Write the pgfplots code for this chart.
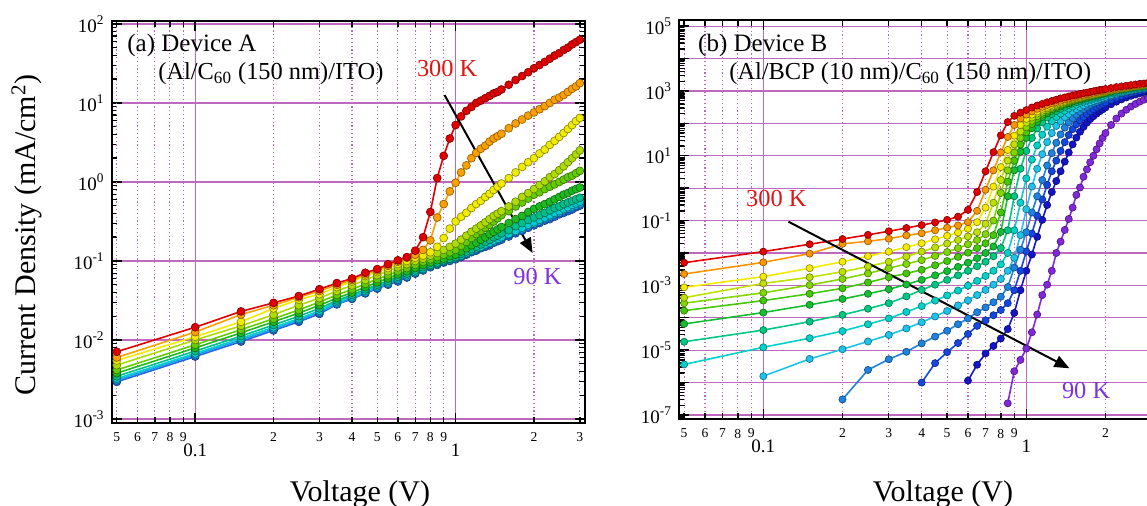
\documentclass[border=0pt]{standalone}
\usepackage{fontspec}
\setmainfont{Liberation Serif}
\usepackage{pgfplots}
\pgfplotsset{compat=1.18}
\usepackage{pgfplotstable}
\usetikzlibrary{arrows.meta}

\definecolor{gridc}{RGB}{190,105,190}
\definecolor{La}{RGB}{225,0,0}
\definecolor{Lb}{RGB}{250,160,0}
\definecolor{Lc}{RGB}{240,235,0}
\definecolor{Ld}{RGB}{175,220,0}
\definecolor{Le}{RGB}{100,205,0}
\definecolor{Lf}{RGB}{30,185,30}
\definecolor{Lg}{RGB}{0,190,140}
\definecolor{Lh}{RGB}{0,205,215}
\definecolor{Li}{RGB}{30,160,230}
\definecolor{Lj}{RGB}{40,100,225}
\definecolor{Ra}{RGB}{225,0,0}
\definecolor{Rb}{RGB}{250,150,0}
\definecolor{Rc}{RGB}{245,235,0}
\definecolor{Rd}{RGB}{190,225,0}
\definecolor{Re}{RGB}{130,215,0}
\definecolor{Rf}{RGB}{70,200,10}
\definecolor{Rg}{RGB}{20,190,50}
\definecolor{Rh}{RGB}{0,200,130}
\definecolor{Ri}{RGB}{0,210,200}
\definecolor{Rj}{RGB}{30,195,235}
\definecolor{Rk}{RGB}{30,130,225}
\definecolor{Rl}{RGB}{20,70,225}
\definecolor{Rm}{RGB}{20,20,200}
\definecolor{Rn}{RGB}{130,40,220}
\definecolor{hot}{RGB}{225,20,20}
\definecolor{cold}{RGB}{125,50,225}

% Device A
\pgfplotstableread{
V    L1     L2      L3      L4      L5      L6      L7      L8      L9      L10
0.05 7.1e-3 6.0e-3  5.5e-3  4.8e-3  4.17e-3 3.8e-3  3.47e-3 3.24e-3 3.09e-3 2.95e-3
0.10 1.45e-2 1.26e-2 1.1e-2 1.0e-2  8.7e-3  7.94e-3 7.24e-3 6.76e-3 6.46e-3 6.17e-3
0.15 2.3e-2 2.1e-2  1.7e-2  1.51e-2 1.35e-2 1.23e-2 1.12e-2 1.05e-2 1.0e-2  9.55e-3
0.20 2.95e-2 2.75e-2 2.51e-2 2.09e-2 1.86e-2 1.7e-2 1.55e-2 1.45e-2 1.38e-2 1.32e-2
0.25 3.6e-2 3.47e-2 3.24e-2 2.75e-2 2.4e-2  2.19e-2 2.0e-2  1.86e-2 1.78e-2 1.70e-2
0.30 4.4e-2 4.17e-2 3.8e-2  3.39e-2 3.02e-2 2.75e-2 2.51e-2 2.34e-2 2.24e-2 2.14e-2
0.35 5.25e-2 5.0e-2 4.68e-2 4.17e-2 3.72e-2 3.39e-2 3.16e-2 3.02e-2 2.88e-2 2.82e-2
0.40 6.0e-2 5.75e-2 5.5e-2  4.9e-2  4.37e-2 3.98e-2 3.72e-2 3.55e-2 3.39e-2 3.31e-2
0.45 7.1e-2 6.76e-2 6.46e-2 5.75e-2 5.13e-2 4.68e-2 4.37e-2 4.17e-2 3.98e-2 3.89e-2
0.50 7.9e-2 7.6e-2  7.24e-2 6.61e-2 5.89e-2 5.37e-2 5.01e-2 4.79e-2 4.57e-2 4.47e-2
0.55 9.1e-2 8.7e-2  8.13e-2 7.41e-2 6.61e-2 6.03e-2 5.62e-2 5.37e-2 5.13e-2 5.01e-2
0.60 0.102  9.8e-2  9.12e-2 8.32e-2 7.41e-2 6.76e-2 6.31e-2 6.03e-2 5.75e-2 5.5e-2
0.65 0.112  0.110   0.100   9.12e-2 8.13e-2 7.41e-2 6.92e-2 6.61e-2 6.31e-2 6.17e-2
0.70 0.135  0.120   0.110   0.100   8.91e-2 8.13e-2 7.59e-2 7.24e-2 7.08e-2 6.92e-2
0.75 0.200  0.138   0.117   0.107   9.77e-2 8.91e-2 8.32e-2 7.94e-2 7.76e-2 7.59e-2
0.80 0.417  0.182   0.129   0.117   0.105   9.55e-2 8.91e-2 8.71e-2 8.51e-2 8.32e-2
0.85 1.12   0.355   0.151   0.126   0.112   0.102   9.55e-2 9.33e-2 9.12e-2 8.91e-2
0.90 2.14   0.525   0.195   0.138   0.120   0.107   0.102   0.100   9.77e-2 9.55e-2
0.95 3.55   0.76    0.257   0.151   0.129   0.115   0.107   0.105   0.102   0.100
1.00 5.25   0.977   0.316   0.166   0.138   0.120   0.112   0.110   0.107   0.105
1.05 6.76   1.32    0.363   0.186   0.155   0.132   0.123   0.117   0.115   0.112
1.10 7.94   1.62    0.407   0.209   0.174   0.145   0.132   0.126   0.123   0.120
1.15 8.91   2.0     0.468   0.234   0.195   0.158   0.141   0.135   0.132   0.129
1.20 10.0   2.34    0.525   0.257   0.219   0.170   0.151   0.145   0.141   0.135
1.25 10.7   2.63    0.575   0.282   0.240   0.186   0.162   0.151   0.148   0.145
1.30 11.5   2.88    0.646   0.309   0.263   0.200   0.174   0.162   0.158   0.151
1.35 12.3   3.24    0.708   0.339   0.288   0.219   0.186   0.170   0.166   0.158
1.40 13.2   3.55    0.794   0.372   0.316   0.234   0.200   0.182   0.174   0.170
1.45 13.8   3.80    0.871   0.398   0.347   0.251   0.209   0.191   0.186   0.178
1.50 14.8   4.07    0.955   0.427   0.380   0.269   0.224   0.200   0.195   0.186
1.6  17.0   4.79    1.12    0.490   0.427   0.302   0.245   0.219   0.214   0.204
1.7  19.5   5.50    1.32    0.562   0.490   0.339   0.275   0.240   0.234   0.224
1.8  21.9   6.17    1.55    0.646   0.550   0.372   0.302   0.263   0.251   0.240
1.9  24.5   6.92    1.78    0.724   0.617   0.417   0.331   0.288   0.275   0.263
2.0  27.5   7.59    2.0     0.813   0.692   0.457   0.355   0.309   0.295   0.282
2.1  30.2   8.32    2.29    0.912   0.741   0.490   0.380   0.331   0.316   0.302
2.2  33.1   9.12    2.57    1.02    0.813   0.525   0.407   0.355   0.339   0.324
2.3  36.3   10.0    2.95    1.15    0.871   0.562   0.437   0.380   0.363   0.339
2.4  39.8   11.0    3.31    1.26    0.933   0.603   0.468   0.407   0.389   0.363
2.5  42.7   11.7    3.72    1.41    1.00    0.646   0.490   0.427   0.407   0.389
2.6  46.8   12.6    4.17    1.58    1.07    0.692   0.525   0.457   0.437   0.407
2.7  50.1   13.8    4.68    1.78    1.15    0.724   0.550   0.479   0.457   0.427
2.8  55.0   15.1    5.25    2.0     1.20    0.776   0.575   0.513   0.479   0.447
2.9  58.9   16.2    5.89    2.24    1.29    0.813   0.603   0.537   0.501   0.479
3.0  63.1   17.8    6.46    2.51    1.38    0.851   0.631   0.562   0.525   0.501
}\tabA

% Device B
\pgfplotstableread{
V    R1      R2      R3      R4      R5      R6      R7      R8      R9      R10     R11     R12     R13     R14
0.05 5.01e-3 2.24e-3 8.71e-4 4.17e-4 2.82e-4 1.66e-4 6.46e-5 1.82e-5 3.63e-6 nan     nan     nan     nan     nan
0.10 1.10e-2 5.13e-3 1.86e-3 1.15e-3 5.89e-4 3.39e-4 1.45e-4 4.17e-5 1.23e-5 1.58e-6 nan     nan     nan     nan
0.15 1.86e-2 9.55e-3 3.39e-3 1.78e-3 1.02e-3 5.50e-4 2.51e-4 7.59e-5 2.34e-5 5.37e-6 nan     nan     nan     nan
0.20 2.69e-2 1.91e-2 5.37e-3 2.63e-3 1.58e-3 8.13e-4 3.80e-4 1.23e-4 3.89e-5 1.07e-5 3.02e-7 nan     nan     nan
0.25 3.63e-2 2.29e-2 7.94e-3 3.80e-3 2.34e-3 1.23e-3 5.50e-4 1.91e-4 6.31e-5 1.86e-5 2.45e-6 nan     nan     nan
0.30 4.68e-2 2.75e-2 1.10e-2 5.37e-3 3.39e-3 1.78e-3 7.59e-4 2.82e-4 9.55e-5 2.95e-5 5.25e-6 nan     nan     nan
0.35 5.89e-2 3.47e-2 1.51e-2 7.76e-3 4.57e-3 2.34e-3 1.07e-3 4.57e-4 1.51e-4 4.68e-5 8.91e-6 nan     nan     nan
0.40 7.24e-2 4.07e-2 2.00e-2 1.10e-2 6.03e-3 3.02e-3 1.48e-3 7.24e-4 2.29e-4 7.24e-5 1.62e-5 1.00e-6 nan     nan
0.45 8.71e-2 5.01e-2 2.63e-2 1.48e-2 8.13e-3 4.17e-3 2.04e-3 1.05e-3 3.39e-4 1.10e-4 2.63e-5 3.98e-6 nan     nan
0.50 0.105   6.03e-2 3.39e-2 1.95e-2 1.07e-2 5.62e-3 2.75e-3 1.48e-3 4.90e-4 1.62e-4 3.98e-5 8.71e-6 nan     nan
0.55 0.132   7.08e-2 4.27e-2 2.51e-2 1.41e-2 7.59e-3 3.72e-3 2.04e-3 6.92e-4 2.40e-4 6.31e-5 1.66e-5 nan     nan
0.60 0.214   8.91e-2 5.62e-2 3.24e-2 1.86e-2 1.02e-2 5.01e-3 2.82e-3 9.77e-4 3.47e-4 9.55e-5 3.16e-5 1.15e-6 nan
0.65 0.759   0.200   8.91e-2 4.37e-2 2.51e-2 1.41e-2 6.92e-3 3.89e-3 1.38e-3 5.01e-4 1.48e-4 5.62e-5 3.55e-6 nan
0.70 3.31    0.891   0.251   7.94e-2 3.80e-2 2.00e-2 1.00e-2 5.37e-3 1.95e-3 7.24e-4 2.09e-4 8.32e-5 7.94e-6 nan
0.75 12.9    3.55    1.12    0.355   0.100   3.55e-2 1.58e-2 7.94e-3 2.82e-3 1.05e-3 3.02e-4 1.20e-4 1.35e-5 nan
0.80 42.7    12.6    4.47    1.78    0.708   0.178   4.47e-2 1.41e-2 4.47e-3 1.58e-3 4.47e-4 1.74e-4 2.29e-5 nan
0.85 110     38.0    15.1    7.08    3.55    1.58    0.562   5.01e-2 1.00e-2 2.82e-3 8.91e-4 2.82e-4 4.47e-5 2.29e-7
0.90 170     89.1    41.7    22.4    12.6    7.08    3.55    0.562   5.01e-2 7.08e-3 3.55e-3 7.08e-4 1.41e-4 2.24e-6
0.95 214     141     89.1    56.2    35.5    22.4    13.2    3.98    0.355   3.55e-2 1.26e-2 2.82e-3 7.08e-4 5.01e-6
1.00 257     186     138     105     75.9    52.5    35.5    14.1    2.00    0.224   4.37e-2 1.12e-2 2.82e-3 1.12e-5
1.05 309     234     186     151     120     95.5    70.8    35.5    7.59    1.12    0.178   3.98e-2 8.91e-3 3.55e-5
1.10 355     282     234     200     166     138     112     69.2    20.9    3.98    0.562   0.141   3.16e-2 1.26e-4
1.15 398     324     282     245     214     186     158     107     44.7    11.2    1.78    0.447   0.105   5.0e-4
1.20 447     372     324     288     257     229     204     151     79.4    26.3    5.01    1.26    0.302   1.05e-3
1.25 490     417     372     331     302     275     245     195     117     50.1    12.0    3.31    0.759   2.82e-3
1.30 537     457     417     380     347     316     288     240     158     83.2    25.1    7.08    1.66    1.00e-2
1.35 589     501     457     427     389     363     331     282     200     117     45.7    14.1    3.31    2.24e-2
1.40 631     550     501     468     437     407     380     324     245     155     74.1    26.3    6.61    5.13e-2
1.45 676     589     550     513     479     447     417     372     288     195     107     43.7    12.6    0.112
1.50 724     631     589     550     525     490     468     417     331     234     145     66.1    22.4    0.251
1.55 759     676     631     589     562     537     513     457     380     275     186     93.3    36.3    0.617
1.60 813     724     676     631     603     575     550     501     427     316     229     126     55.0    1.05
1.65 851     759     708     676     646     617     589     550     468     363     275     158     77.6    2.24
1.70 891     794     759     724     692     661     631     589     513     407     324     195     105     3.80
1.75 933     832     794     759     724     708     676     631     550     447     372     234     135     6.31
1.80 977     891     832     794     776     741     724     676     589     490     417     275     166     10.0
1.85 1023    933     871     832     813     776     759     708     631     525     457     316     200     15.8
1.90 1072    977     912     871     851     832     794     759     676     575     501     355     234     24.0
1.95 1096    1000    955     912     891     871     832     794     708     617     550     398     269     35.5
2.00 1148    1047    1000    955     933     912     871     832     759     661     589     437     309     50.1
2.1  1230    1122    1072    1047    1023    1000    955     912     832     741     676     525     389     89.1
2.2  1318    1202    1148    1122    1096    1072    1047    1000    912     832     759     617     468     141
2.3  1380    1288    1230    1202    1175    1148    1122    1072    1000    912     851     692     550     200
2.4  1445    1349    1288    1259    1230    1202    1175    1148    1072    977     933     776     631     263
2.5  1514    1413    1380    1349    1318    1288    1259    1202    1148    1047    1000    851     708     331
2.6  1585    1479    1445    1413    1380    1349    1318    1288    1202    1122    1072    933     776     398
2.7  1660    1549    1514    1479    1445    1413    1380    1349    1259    1175    1148    1000    851     468
2.8  1698    1622    1585    1549    1514    1479    1445    1413    1318    1230    1202    1072    933     537
2.9  1778    1698    1622    1585    1549    1514    1479    1445    1380    1318    1259    1148    1000    603
3.0  1862    1778    1698    1660    1622    1585    1549    1514    1445    1380    1318    1202    1072    676
}\tabB

\newcommand{\crv}[4]{\addplot[draw=#1, line width=0.8pt, mark=*, mark size=#4,
  mark options={solid, fill=#1, draw=#1!55!black, line width=0.3pt}]
  table[x=V, y=#2] {#3};}

\begin{document}
\begin{tikzpicture}
\useasboundingbox (0pt,0pt) rectangle (573.5pt,253pt);
\clip (0pt,0pt) rectangle (573.5pt,253pt);

\begin{axis}[
  scale only axis, xmode=log, ymode=log,
  at={(55.85pt,41.5pt)}, anchor=south west, width=236.65pt, height=201pt,
  axis line style={line width=1pt, black},
  tick style={black, line width=0.7pt},
  major tick length=5pt, minor tick length=2.8pt,
  xmin=0.0478, xmax=3.14,
  xtick={0.1,1}, xticklabels={0.1,1},
  xticklabel style={font=\fontsize{9.5}{10}\selectfont, yshift=-6.8pt},
  extra x ticks={0.05,0.06,0.07,0.08,0.09,0.2,0.3,0.4,0.5,0.6,0.7,0.8,0.9,2,3},
  extra x tick labels={5,6,7,8,9,2,3,4,5,6,7,8,9,2,3},
  extra x tick style={major tick length=3pt, grid=major,
    major grid style={gridc, line width=0.55pt, dash pattern=on 0.6pt off 1.3pt},
    xticklabel style={font=\fontsize{6.8}{7}\selectfont, yshift=5.6pt}},
  grid=major, major grid style={gridc, line width=0.6pt},
  yticklabel style={font=\fontsize{9.5}{10}\selectfont},
  ymin=8.9e-4, ymax=109,
  ytick={1e-3,1e-2,1e-1,1,10,100},
  yticklabels={10\textsuperscript{-3},10\textsuperscript{-2},10\textsuperscript{-1},10\textsuperscript{0},10\textsuperscript{1},10\textsuperscript{2}},
  minor ytick={2e-3,3e-3,4e-3,5e-3,6e-3,7e-3,8e-3,9e-3,2e-2,3e-2,4e-2,5e-2,6e-2,7e-2,8e-2,9e-2,0.2,0.3,0.4,0.5,0.6,0.7,0.8,0.9,2,3,4,5,6,7,8,9,20,30,40,50,60,70,80,90},
]
\crv{Lj}{L10}{\tabA}{2pt}
\crv{Li}{L9}{\tabA}{2pt}
\crv{Lh}{L8}{\tabA}{2pt}
\crv{Lg}{L7}{\tabA}{2pt}
\crv{Lf}{L6}{\tabA}{2pt}
\crv{Le}{L5}{\tabA}{2pt}
\crv{Ld}{L4}{\tabA}{2pt}
\crv{Lc}{L3}{\tabA}{2pt}
\crv{Lb}{L2}{\tabA}{2pt}
\crv{La}{L1}{\tabA}{2pt}
\draw[line width=1pt, -{Triangle[length=7.5pt,width=6pt]}] (axis cs:0.907,12.6) -- (axis cs:1.976,0.126);
\end{axis}

\begin{axis}[
  scale only axis, xmode=log, ymode=log,
  at={(339.5pt,43.25pt)}, anchor=south west, width=239pt, height=199.75pt,
  axis line style={line width=1pt, black},
  tick style={black, line width=0.7pt},
  major tick length=5pt, minor tick length=2.8pt,
  xmin=0.0478, xmax=3.14,
  xtick={0.1,1}, xticklabels={0.1,1},
  xticklabel style={font=\fontsize{9.5}{10}\selectfont, yshift=-6.8pt},
  extra x ticks={0.05,0.06,0.07,0.08,0.09,0.2,0.3,0.4,0.5,0.6,0.7,0.8,0.9,2,3},
  extra x tick labels={5,6,7,8,9,2,3,4,5,6,7,8,9,2,{}},
  extra x tick style={major tick length=3pt, grid=major,
    major grid style={gridc, line width=0.55pt, dash pattern=on 0.6pt off 1.3pt},
    xticklabel style={font=\fontsize{6.8}{7}\selectfont, yshift=5.6pt}},
  grid=major, major grid style={gridc, line width=0.6pt},
  yticklabel style={font=\fontsize{9.5}{10}\selectfont},
  ymin=7.26e-8, ymax=1.55e5,
  ytick={1e-7,1e-6,1e-5,1e-4,1e-3,1e-2,1e-1,1,10,100,1e3,1e4,1e5},
  yticklabels={10\textsuperscript{-7},,10\textsuperscript{-5},,10\textsuperscript{-3},,10\textsuperscript{-1},,10\textsuperscript{1},,10\textsuperscript{3},,10\textsuperscript{5}},
  minor ytick={8e-8,9e-8,2e-7,3e-7,4e-7,5e-7,6e-7,7e-7,8e-7,9e-7,2e-6,3e-6,4e-6,5e-6,6e-6,7e-6,8e-6,9e-6,2e-5,3e-5,4e-5,5e-5,6e-5,7e-5,8e-5,9e-5,2e-4,3e-4,4e-4,5e-4,6e-4,7e-4,8e-4,9e-4,2e-3,3e-3,4e-3,5e-3,6e-3,7e-3,8e-3,9e-3,2e-2,3e-2,4e-2,5e-2,6e-2,7e-2,8e-2,9e-2,0.2,0.3,0.4,0.5,0.6,0.7,0.8,0.9,2,3,4,5,6,7,8,9,20,30,40,50,60,70,80,90,200,300,400,500,600,700,800,900,2e3,3e3,4e3,5e3,6e3,7e3,8e3,9e3,2e4,3e4,4e4,5e4,6e4,7e4,8e4,9e4},
]
\crv{Rn}{R14}{\tabB}{1.8pt}
\crv{Rm}{R13}{\tabB}{1.8pt}
\crv{Rl}{R12}{\tabB}{1.8pt}
\crv{Rk}{R11}{\tabB}{1.8pt}
\crv{Rj}{R10}{\tabB}{1.8pt}
\crv{Ri}{R9}{\tabB}{1.8pt}
\crv{Rh}{R8}{\tabB}{1.8pt}
\crv{Rg}{R7}{\tabB}{1.8pt}
\crv{Rf}{R6}{\tabB}{1.8pt}
\crv{Re}{R5}{\tabB}{1.8pt}
\crv{Rd}{R4}{\tabB}{1.8pt}
\crv{Rc}{R3}{\tabB}{1.8pt}
\crv{Rb}{R2}{\tabB}{1.8pt}
\crv{Ra}{R1}{\tabB}{1.8pt}
\draw[line width=1pt, -{Triangle[length=7.5pt,width=6pt]}] (axis cs:0.1246,0.0925) -- (axis cs:1.459,2.76e-6);
\end{axis}

\begin{scope}[every node/.style={inner sep=0pt, anchor=base west}]
\node[font=\fontsize{12.5}{13}\selectfont] at (63.5pt,227pt) {(a) Device A};
\node[font=\fontsize{12.2}{13}\selectfont] at (79pt,213pt) {(Al/C\textsubscript{60} (150 nm)/ITO)};
\node[font=\fontsize{12.2}{13}\selectfont, text=hot] at (208.3pt,214.5pt) {300 K};
\node[font=\fontsize{12.2}{13}\selectfont, text=cold] at (256.5pt,110.5pt) {90 K};
\node[font=\fontsize{12.5}{13}\selectfont] at (348.9pt,227pt) {(b) Device B};
\node[font=\fontsize{12.2}{13}\selectfont] at (364.5pt,213pt) {(Al/BCP (10 nm)/C\textsubscript{60} (150 nm)/ITO)};
\node[font=\fontsize{12.2}{13}\selectfont, text=hot] at (372.9pt,149.5pt) {300 K};
\node[font=\fontsize{12.2}{13}\selectfont, text=cold] at (530.8pt,53.5pt) {90 K};
\end{scope}
\node[rotate=90, font=\fontsize{15}{16}\selectfont, inner sep=0pt] at (13.5pt,135.5pt) {Current Density (mA/cm\textsuperscript{2})};
\node[anchor=base, inner sep=0pt, font=\fontsize{15}{16}\selectfont] at (180pt,2pt) {Voltage (V)};
\node[anchor=base, inner sep=0pt, font=\fontsize{15}{16}\selectfont] at (471.5pt,2pt) {Voltage (V)};
\end{tikzpicture}
\end{document}
